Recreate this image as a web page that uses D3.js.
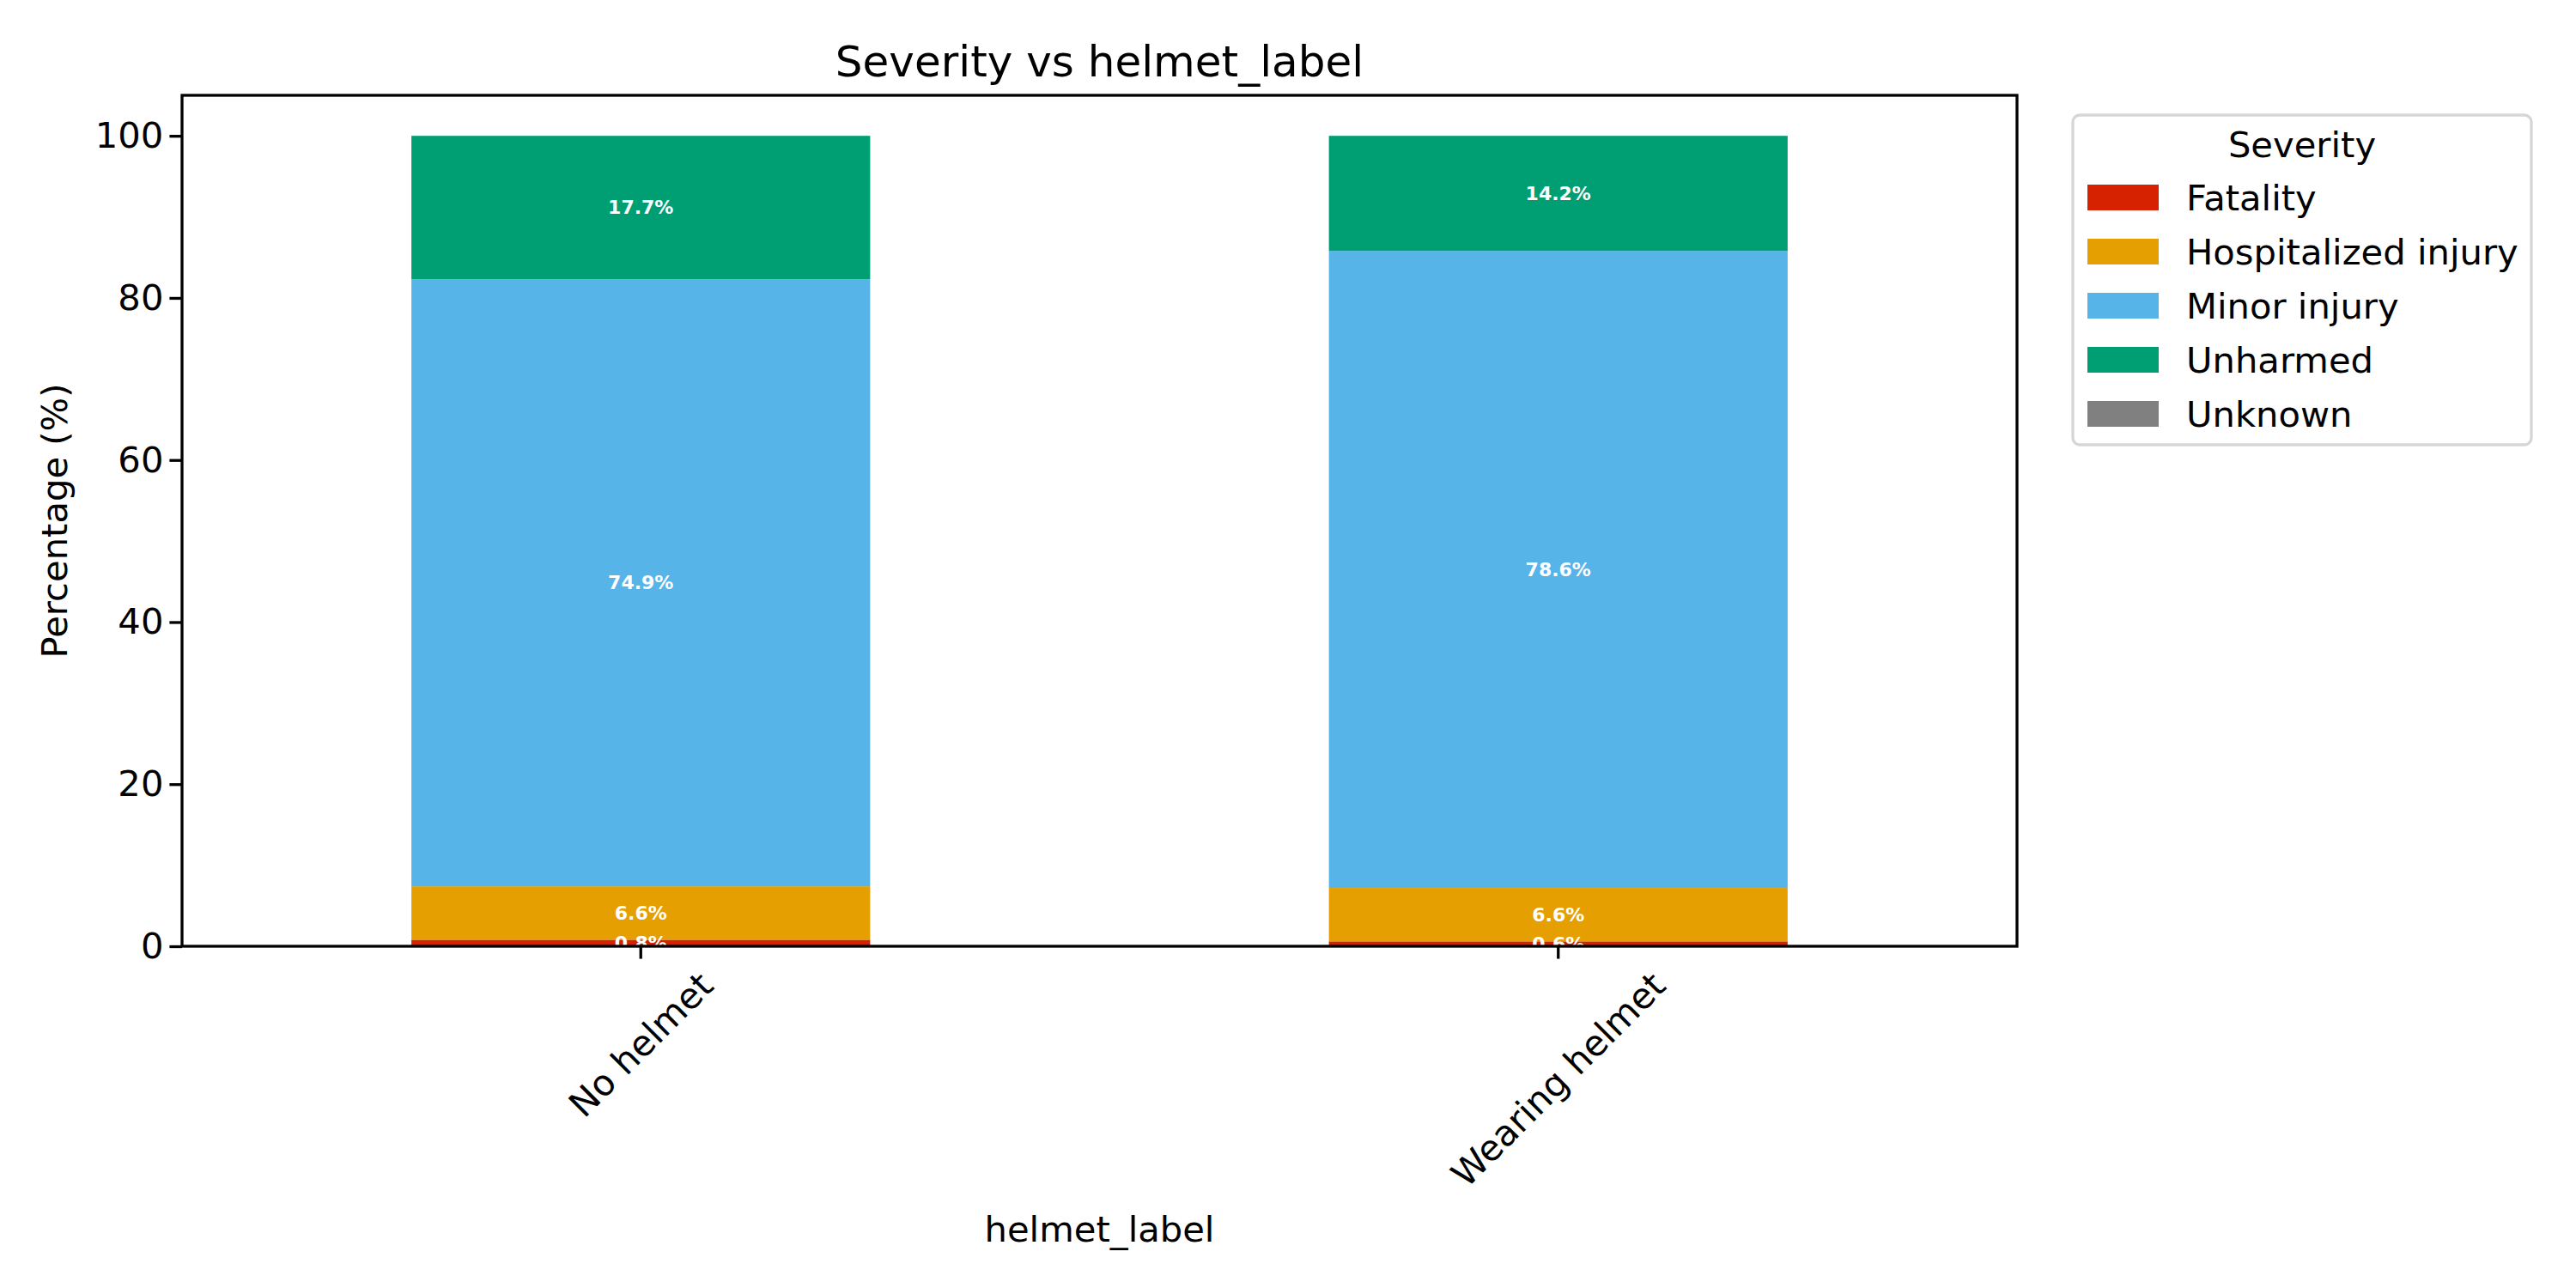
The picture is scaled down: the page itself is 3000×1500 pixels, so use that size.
<!DOCTYPE html>
<html>
<head>
<meta charset="utf-8">
<script src="https://cdn.jsdelivr.net/npm/d3@7"></script>
<style>
  body { margin: 0; background: #fff; }
  text { font-family: "DejaVu Sans", sans-serif; }
</style>
</head>
<body>
<div id="chart"></div>
<script>
// data
var groups = ["No helmet", "Wearing helmet"];
var severities = ["Fatality", "Hospitalized injury", "Minor injury", "Unharmed", "Unknown"];
var colors = ["#d62200", "#e69f00", "#56b4e9", "#009e73", "#808080"];
var fatality = [0.8, 0.6];
var hospitalized = [6.6, 6.6];
var minor = [74.9, 78.6];
var unharmed = [17.7, 14.2];
var unknown = [0, 0];
var yTicks = [0, 20, 40, 60, 80, 100];

var series = [fatality, hospitalized, minor, unharmed, unknown];

var W = 3000, H = 1500;
var margin = { top: 111, right: 651, bottom: 398, left: 212 },
    width = W - margin.left - margin.right,
    height = H - margin.top - margin.bottom;

var svg = d3.select("#chart")
    .append("svg")
    .attr("width", W)
    .attr("height", H);

var g = svg.append("g")
    .attr("transform", "translate(" + margin.left + "," + margin.top + ")");

// x: band scale, bars half the category width like pandas
var x = d3.scaleBand()
    .domain(groups)
    .range([0, width])
    .paddingInner(0.5)
    .paddingOuter(0.25);

var y = d3.scaleLinear()
    .domain([0, 105])
    .range([height, 0]);

// stack
var rows = groups.map(function (grp, i) {
    var r = { group: grp };
    severities.forEach(function (s, j) { r[s] = series[j][i]; });
    return r;
});
var stacked = d3.stack().keys(severities)(rows);

var layer = g.selectAll(".layer")
    .data(stacked)
    .enter()
    .append("g")
    .attr("fill", function (d, i) { return colors[i]; });

layer.selectAll("rect")
    .data(function (d) { return d; })
    .enter()
    .append("rect")
    .attr("x", function (d) { return x(d.data.group); })
    .attr("width", x.bandwidth())
    .attr("y", function (d) { return y(d[1]); })
    .attr("height", function (d) { return y(d[0]) - y(d[1]); });

// value labels
stacked.forEach(function (s) {
    s.forEach(function (d) {
        var v = d[1] - d[0];
        if (v <= 0) return;
        g.append("text")
            .attr("x", x(d.data.group) + x.bandwidth() / 2)
            .attr("y", y((d[0] + d[1]) / 2))
            .attr("dy", "0.35em")
            .attr("text-anchor", "middle")
            .style("font-size", "22px")
            .style("font-weight", "bold")
            .attr("fill", "white")
            .text(v.toFixed(1) + "%");
    });
});

// axes
var yAxis = g.append("g")
    .call(d3.axisLeft(y).tickValues(yTicks).tickSize(14.6).tickPadding(7));
var xAxis = g.append("g")
    .attr("transform", "translate(0," + height + ")")
    .call(d3.axisBottom(x).tickSize(14.6).tickPadding(7));

[xAxis, yAxis].forEach(function (a) {
    a.select(".domain").remove();
    a.selectAll("line").attr("stroke-width", 3.3);
    a.selectAll("text").style("font-size", "41.7px").attr("fill", "black")
        .style("font-family", "DejaVu Sans");
});

// rotated tick labels, centred under the tick like matplotlib ha=center
xAxis.selectAll("text")
    .attr("text-anchor", "middle")
    .attr("dy", "0.35em")
    .attr("y", 0)
    .attr("x", 0)
    .attr("transform", function () {
        var w = this.getComputedTextLength();
        var half = (w * 0.7071 + 41.7 * 0.7071 * 1.1) / 2;
        return "translate(0," + (22 + half) + ") rotate(-45)";
    });

// frame
g.append("rect")
    .attr("width", width)
    .attr("height", height)
    .attr("fill", "none")
    .attr("stroke", "black")
    .attr("stroke-width", 3.3);

// title & axis labels
svg.append("text")
    .attr("x", margin.left + width / 2)
    .attr("y", 71)
    .attr("dy", "0.35em")
    .attr("text-anchor", "middle")
    .style("font-size", "50px")
    .text("Severity vs helmet_label");

svg.append("text")
    .attr("x", margin.left + width / 2)
    .attr("y", 1431)
    .attr("dy", "0.35em")
    .attr("text-anchor", "middle")
    .style("font-size", "41.7px")
    .text("helmet_label");

svg.append("text")
    .attr("transform", "translate(63," + (margin.top + height / 2) + ") rotate(-90)")
    .attr("dy", "0.35em")
    .attr("text-anchor", "middle")
    .style("font-size", "41.7px")
    .text("Percentage (%)");

// legend
var legend = svg.append("g").attr("transform", "translate(2414,134)");
legend.append("rect")
    .attr("width", 534)
    .attr("height", 384)
    .attr("rx", 8)
    .attr("fill", "white")
    .attr("stroke", "#d6d6d6")
    .attr("stroke-width", 3.3);
legend.append("text")
    .attr("x", 267)
    .attr("y", 34)
    .attr("dy", "0.35em")
    .attr("text-anchor", "middle")
    .style("font-size", "41.7px")
    .text("Severity");
severities.forEach(function (s, i) {
    var cy = 96 + i * 63;
    legend.append("rect")
        .attr("x", 17)
        .attr("y", cy - 15)
        .attr("width", 83)
        .attr("height", 30)
        .attr("fill", colors[i]);
    legend.append("text")
        .attr("x", 132)
        .attr("y", cy)
        .attr("dy", "0.35em")
        .style("font-size", "41.7px")
        .text(s);
});
</script>
</body>
</html>
